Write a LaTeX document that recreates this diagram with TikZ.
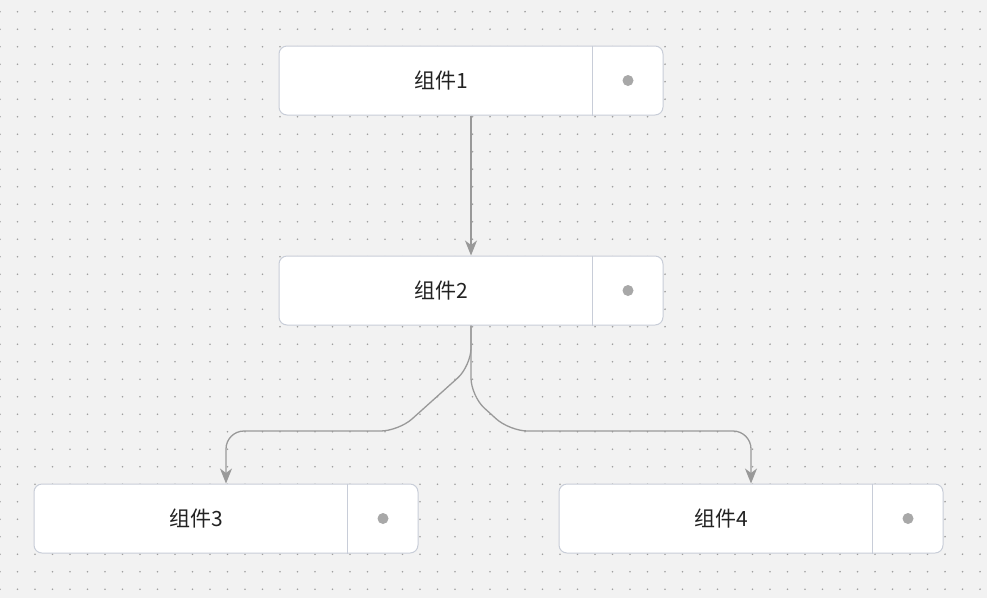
\documentclass[tikz,border=0pt]{standalone}
\usepackage{fontspec}
\newfontfamily\cjk{Noto Sans CJK SC}
\usetikzlibrary{arrows.meta,calc}
\definecolor{bg}{HTML}{F2F2F2}
\definecolor{griddot}{HTML}{A0A0A0}
\definecolor{nodeborder}{HTML}{C8CDD8}
\definecolor{edgegray}{HTML}{999999}
\definecolor{knob}{HTML}{A8A8A8}
\definecolor{txt}{HTML}{222222}
\begin{document}
\begin{tikzpicture}[x=1pt,y=-1pt,
  compbox/.style={draw=nodeborder,line width=1pt,fill=white,rounded corners=8pt,minimum width=384pt,minimum height=69pt,inner sep=0pt},
  divider/.style={draw=nodeborder,line width=1pt},
  comptext/.style={font=\cjk\fontsize{21}{21}\selectfont,text=txt,inner sep=0pt},
  knobdot/.style={fill=knob,circle,minimum size=11pt,inner sep=0pt},
  linkline/.style={draw=edgegray,line width=1.3pt,-{Stealth[length=15pt,width=12pt,inset=4.5pt]},rounded corners=18pt}]
\fill[bg] (0,0) rectangle (987,598);
\useasboundingbox (0,0) rectangle (987,598);
\foreach \i in {0,...,56} {
  \foreach \j in {0,...,33} {
    \fill[griddot] (\i*17.5,11.7+\j*17.5) circle (0.95pt);
  }
}
% nodes
\node[compbox] (n1) at (471,80.5) {};
\node[compbox] (n2) at (471,290.5) {};
\node[compbox] (n3) at (226,518.5) {};
\node[compbox] (n4) at (751,518.5) {};
\foreach \n/\lab in {n1/组件1,n2/组件2,n3/组件3,n4/组件4} {
  \draw[divider] ($(\n.north east)+(-71,0)$) -- ($(\n.south east)+(-71,0)$);
  \node[knobdot] (k\n) at ($(\n.east)+(-35.5,0)$) {};
  \node[comptext] (t\n) at ($(\n.center)+(-30,0)$) {\lab};
}
% connectors
\draw[linkline] (n1.south) -- (n2.north);
\coordinate (la) at (471,366);
\coordinate (lb) at (398.6,431);
\coordinate (lc) at (226,431);
\draw[linkline] (n2.south) -- (la) -- (lb) -- (lc) -- (n3.north);
\coordinate (ra) at (471,396);
\coordinate (rb) at (509.6,431);
\coordinate (rc) at (751,431);
\draw[linkline] (n2.south) -- (ra) -- (rb) -- (rc) -- (n4.north);
\end{tikzpicture}
\end{document}
